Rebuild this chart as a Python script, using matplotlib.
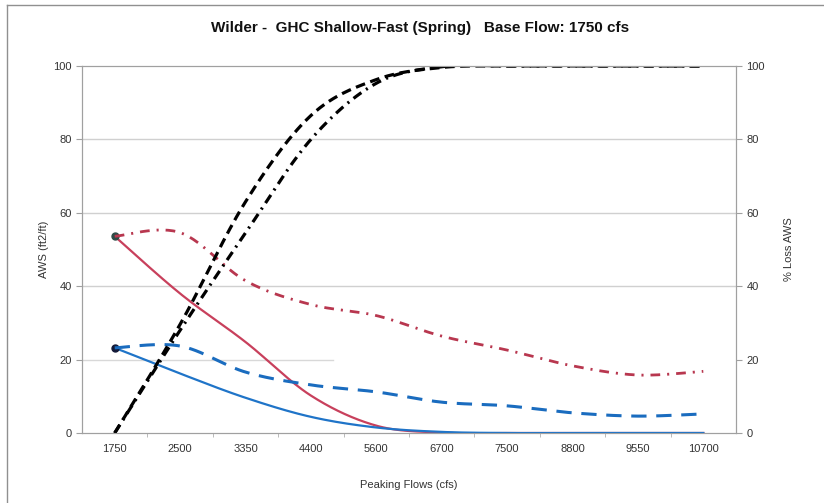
import numpy as np
import matplotlib
matplotlib.use('Agg')
import matplotlib.pyplot as plt
from matplotlib.lines import Line2D

plt.rcParams['font.family'] = ['Liberation Sans', 'DejaVu Sans']
plt.rcParams['lines.scale_dashes'] = False

flows = ['1750', '2500', '3350', '4400', '5600', '6700', '7500', '8800', '9550', '10700']

# AWS (ft2/ft), left axis
aws_red = [53.6, 38.0, 24.8, 10.2, 2.0, 0.1, 0.0, 0.0, 0.0, 0.0]
aws_blue = [23.2, 16.2, 9.6, 4.4, 1.5, 0.3, 0.0, 0.0, 0.0, 0.0]

# % Loss AWS, right axis
loss_red = [53.6, 54.6, 41.5, 35.0, 32.0, 26.4, 22.6, 18.3, 15.8, 16.8]
loss_blue = [23.2, 23.7, 16.6, 13.1, 11.2, 8.4, 7.4, 5.5, 4.6, 5.2]
loss_black_dash = [0.0, 29.6, 63.0, 86.5, 96.3, 99.6, 100.0, 100.0, 100.0, 100.0]
loss_black_dashdot = [0.0, 28.0, 54.5, 80.0, 95.3, 99.8, 100.0, 100.0, 100.0, 100.0]


def smooth(values, n=30):
    # excel style smoothed line: bezier segments with catmull-rom control points
    y = np.asarray(values, dtype=float)
    x = np.arange(len(y), dtype=float)
    px = np.concatenate([[x[0]], x, [x[-1]]])
    py = np.concatenate([[y[0]], y, [y[-1]]])
    xs, ys = [], []
    t = np.linspace(0, 1, n)
    for i in range(len(y) - 1):
        p0 = np.array([px[i + 1], py[i + 1]])
        p3 = np.array([px[i + 2], py[i + 2]])
        c1 = p0 + (p3 - np.array([px[i], py[i]])) / 6
        c2 = p3 - (np.array([px[i + 3], py[i + 3]]) - p0) / 6
        b = ((1 - t) ** 3)[:, None] * p0 + (3 * (1 - t) ** 2 * t)[:, None] * c1 \
            + (3 * (1 - t) * t ** 2)[:, None] * c2 + (t ** 3)[:, None] * p3
        xs.extend(b[:, 0])
        ys.extend(b[:, 1])
    return np.array(xs), np.array(ys)


fig = plt.figure(figsize=(8.24, 5.03), dpi=100)
ax = fig.add_axes([82 / 824, 1 - 433 / 503, (736 - 82) / 824, (433 - 66) / 503])
ax2 = ax.twinx()

red = '#c8405c'
red_dd = '#b8374f'
blue = '#1f74c8'
blue_d = '#1a6cbf'

# gridlines
for v in [40, 60, 80]:
    ax.axhline(v, color='#d0d0d0', lw=1.0, zorder=0)
ax.axhline(20, xmax=(333 - 82) / (736 - 82), color='#d8d8d8', lw=1.0, zorder=0)

xs, ys = smooth(aws_red)
ax.plot(xs, ys, color=red, lw=1.6, zorder=3)
xs, ys = smooth(aws_blue)
ax.plot(xs, ys, color=blue, lw=1.6, zorder=3)
ax.plot([0], [aws_red[0]], 'o', color='#2e4a46', ms=5, zorder=5)
ax.plot([0], [aws_blue[0]], 'o', color='#141a38', ms=5, zorder=5)

xs, ys = smooth(loss_red)
ax2.plot(xs, ys, color=red_dd, lw=2.0, dashes=(7, 5, 1.5, 5))
xs, ys = smooth(loss_blue)
ax2.plot(xs, ys, color=blue_d, lw=2.2, dashes=(11, 7))
xs, ys = smooth(loss_black_dash)
ax2.plot(xs, ys, color='black', lw=2.3, dashes=(7, 4))
xs, ys = smooth(loss_black_dashdot)
ax2.plot(xs, ys, color='black', lw=2.3, dashes=(7, 4, 1.5, 4))

for a in (ax, ax2):
    a.set_ylim(0, 100)
    a.set_xlim(-0.5, len(flows) - 0.5)
    a.set_yticks([0, 20, 40, 60, 80, 100])
    for s in a.spines.values():
        s.set_color('#a0a0a0')
    a.tick_params(axis='y', colors='#a0a0a0', labelcolor='#333333', labelsize=8, length=4, width=0.8)
ax.set_xticks(range(len(flows)))
ax.set_xticklabels(flows)
ax.set_xticks(np.arange(len(flows) - 1) + 0.5, minor=True)
ax.tick_params(axis='x', which='major', length=0, labelsize=8, labelcolor='#333333', pad=8)
ax.tick_params(axis='x', which='minor', length=3, color='#b0b0b0')

ax.set_ylabel('AWS (ft2/ft)', fontsize=8, color='#333333', labelpad=3)
ax2.set_ylabel('% Loss AWS', fontsize=8, color='#333333', labelpad=14)
ax.set_xlabel('Peaking Flows (cfs)', fontsize=8, color='#333333', labelpad=19)

fig.text(0.51, 1 - 28 / 503, 'Wilder -  GHC Shallow-Fast (Spring)   Base Flow: 1750 cfs',
         ha='center', va='center', fontsize=11, fontweight='bold', color='#111111')

# outer chart frame
fig.add_artist(Line2D([7 / 824, 7 / 824], [0, 1 - 5 / 503], transform=fig.transFigure, color='#909090', lw=1))
fig.add_artist(Line2D([7 / 824, 1], [1 - 5 / 503, 1 - 5 / 503], transform=fig.transFigure, color='#909090', lw=1))

fig.savefig('out.png', dpi=100)
